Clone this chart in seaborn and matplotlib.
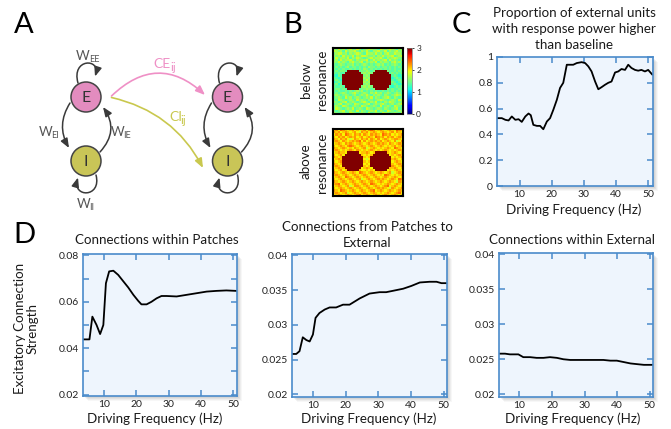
import numpy as np
import pandas as pd
import matplotlib
matplotlib.use("Agg")
import matplotlib.pyplot as plt
import seaborn as sns
from matplotlib.patches import Circle, FancyArrowPatch, Rectangle
from matplotlib.path import Path

# ---------------- data ----------------
freq_c = [3, 4.5, 5.6, 6.6, 7.6, 8.7, 9.7, 10.7, 11.8, 12.8, 13.5, 14.3, 15.4, 16.4, 17.4,
          18.5, 19.5, 20.5, 21.6, 22.6, 23.6, 24.7, 25.7, 26.7, 27.8, 29.3, 30.4, 31.4,
          32.4, 33.5, 34.5, 35.5, 36.6, 37.6, 38.6, 39.7, 40.7, 41.7, 42.8, 43.8, 44.8,
          45.9, 46.9, 47.9, 49.0, 50.0, 51.3]
prop_c = [0.526, 0.526, 0.513, 0.508, 0.539, 0.513, 0.518, 0.497, 0.539, 0.562, 0.549,
          0.474, 0.466, 0.466, 0.44, 0.50, 0.526, 0.59, 0.668, 0.76, 0.80, 0.94, 0.94,
          0.94, 0.953, 0.96, 0.953, 0.927, 0.888, 0.81, 0.75, 0.766, 0.785, 0.80, 0.81,
          0.88, 0.888, 0.907, 0.90, 0.94, 0.915, 0.90, 0.894, 0.90, 0.888, 0.90, 0.863]

freq_d1 = [3.4, 5.5, 6.4, 7.7, 8.8, 9.8, 10.6, 11.6, 12.9, 14.4, 16.0, 17.5, 19.1, 20.6,
           21.6, 23.2, 24.7, 26.3, 27.8, 29.4, 32.5, 35.6, 38.7, 41.8, 44.8, 47.9, 51.0]
within_patches = [0.0438, 0.0438, 0.0536, 0.0500, 0.0461, 0.0500, 0.0680, 0.0731, 0.0734,
                  0.0716, 0.0688, 0.0662, 0.0630, 0.0604, 0.0589, 0.0589, 0.0600, 0.0615,
                  0.0625, 0.0625, 0.0623, 0.0630, 0.0637, 0.0644, 0.0647, 0.0649, 0.0647]

freq_d2 = [3.6, 4.9, 5.9, 6.9, 8.0, 9.0, 10.0, 10.8, 12.0, 13.6, 15.1, 17.1, 19.2, 21.2,
           24.3, 27.3, 30.4, 32.4, 34.5, 37.6, 40.1, 42.7, 45.7, 47.8, 49.3, 51.0]
patches_to_external = [0.0258, 0.0258, 0.0262, 0.0282, 0.0278, 0.0276, 0.0286, 0.0310,
                       0.0317, 0.0322, 0.0325, 0.0325, 0.0329, 0.0329, 0.0338, 0.0345,
                       0.0347, 0.0347, 0.0349, 0.0352, 0.0356, 0.0361, 0.0362, 0.0362,
                       0.0360, 0.0360]

freq_d3 = [3.7, 5.6, 7.1, 8.7, 9.7, 11.2, 13.3, 15.3, 17.4, 19.4, 21.5, 23.5, 25.6, 27.6,
           29.7, 31.7, 33.8, 35.8, 37.9, 39.9, 42.0, 44.1, 46.1, 48.2, 51.0]
within_external = [0.0258, 0.0258, 0.0257, 0.0257, 0.0257, 0.0253, 0.0253, 0.0252, 0.0252,
                    0.0253, 0.0252, 0.0250, 0.0249, 0.0249, 0.0249, 0.0249, 0.0249, 0.0249,
                    0.0248, 0.0248, 0.0246, 0.0244, 0.0243, 0.0242, 0.0242]

c_yticks = [0, 0.2, 0.4, 0.6, 0.8, 1]
c_yticklabels = ["0", "0.2", "0.4", "0.6", "0.8", "1"]
freq_ticks = [10, 20, 30, 40, 50]
d1_yticks = [0.02, 0.03, 0.04, 0.05, 0.06, 0.07, 0.08]
d1_yticklabels = ["0.02", "", "0.04", "", "0.06", "", "0.08"]
d23_yticks = [0.02, 0.025, 0.03, 0.035, 0.04]
d23_yticklabels = ["0.02", "0.025", "0.03", "0.035", "0.04"]

# Response power maps (digit d -> 1.05 + 0.15*d ; X = patch, saturated)
below_rows = [
    "4353424533" "5423454332" "5434543243",
    "5434253445" "3243532445" "3352434534",
    "3455342434" "5432544353" "4245335443",
    "4342534352" "4355433424" "3534452345",
    "2534435243" "5432345344" "5324345433",
    "3425344532" "4344523534" "3452534324",
    "4353432453" "3452434352" "4343245342",
    "3234323342" "3234323234" "3423234323",
    "2323234233" "2323243323" "2332323232",
    "3232322323" "2324323232" "3232323223",
    "2323" "32XXXXX23" "343" "23XXXXX32" "23232",
    "3232" "2XXXXXXX3" "434" "3XXXXXXX2" "32323",
    "2132" "XXXXXXXXX" "343" "XXXXXXXXX" "23212",
    "3212" "XXXXXXXXX" "434" "XXXXXXXXX" "12321",
    "2321" "XXXXXXXXX" "353" "XXXXXXXXX" "21232",
    "1232" "XXXXXXXXX" "434" "XXXXXXXXX" "32123",
    "2312" "XXXXXXXXX" "343" "XXXXXXXXX" "23212",
    "3223" "2XXXXXXX3" "434" "3XXXXXXX2" "12323",
    "2332" "32XXXXX23" "343" "23XXXXX32" "32232",
    "3232232323" "4342323232" "2323232323",
    "2323432345" "3234324353" "4234323432",
    "3432343234" "2343532434" "3243234543",
    "2343253423" "4323435243" "2345324323",
    "3254323432" "5343243234" "5432343254",
    "4323452343" "2345324352" "3243543234",
    "2345234325" "4323452343" "4532342345",
    "3432543234" "3254323432" "5234325432",
    "2543234352" "3432543234" "3243234523",
    "3234523432" "5243234352" "4325432343",
    "4323432543" "2343252343" "2543234325",
]
# (digit d -> 1.2 + 0.15*d)
above_rows = [
    "6758765675" "6567578756" "7656765876",
    "7675676567" "5476756765" "6765675765",
    "5767587657" "6757657676" "5876756567",
    "6576756767" "5675676587" "6757675676",
    "7657675457" "6576757657" "5676567765",
    "6765765676" "7857567676" "7567657457",
    "5676576765" "6765676567" "6765765676",
    "6567657876" "5676567656" "7656567567",
    "7656765657" "6567456765" "6567658765",
    "6765656765" "7656567656" "5676565676",
    "5676" "65XXXXX56" "676" "56XXXXX65" "67656",
    "6567" "5XXXXXXX6" "565" "6XXXXXXX5" "65676",
    "7656" "XXXXXXXXX" "656" "XXXXXXXXX" "56567",
    "5676" "XXXXXXXXX" "545" "XXXXXXXXX" "67656",
    "6567" "XXXXXXXXX" "656" "XXXXXXXXX" "56765",
    "7656" "XXXXXXXXX" "565" "XXXXXXXXX" "65676",
    "6765" "XXXXXXXXX" "656" "XXXXXXXXX" "76567",
    "5676" "6XXXXXXX5" "676" "5XXXXXXX6" "67656",
    "6567" "56XXXXX65" "565" "65XXXXX56" "56765",
    "7656765676" "5876567656" "7656745676",
    "6765676567" "6567656765" "6587656567",
    "5676587656" "7656765676" "5676567656",
    "6567656765" "6745676567" "6765676587",
    "7656765676" "5676567656" "7656765476",
    "6785676567" "6567658765" "6567656765",
    "5676567457" "7656765676" "5678567656",
    "6567656765" "6765676567" "6765476567",
    "7658765676" "5676567856" "7656765676",
    "6765674567" "6567656765" "6567656785",
    "5676567656" "7856765676" "5676567656",
]
below_base, above_base, level_step, patch_value = 1.05, 1.2, 0.15, 3.5


def rows_to_grid(rows, base):
    grid = []
    for s in rows:
        s = s[:30].ljust(30, s[-1])
        grid.append([patch_value if ch == "X" else base + level_step * int(ch) for ch in s])
    return np.array(grid)


# ---------------- figure ----------------
sns.set_theme(style="white")
plt.rcParams["font.family"] = ["Lato", "DejaVu Sans"]

W, H = 671, 429
fig = plt.figure(figsize=(W / 100, H / 100), dpi=100)
fig.patch.set_facecolor("white")


def rect(x0, y0, x1, y1):
    return [x0 / W, 1 - y1 / H, (x1 - x0) / W, (y1 - y0) / H]


def pixel_axes(z):
    a = fig.add_axes([0, 0, 1, 1], zorder=z)
    a.set_xlim(0, W)
    a.set_ylim(H, 0)
    a.axis("off")
    return a


bg = pixel_axes(-5)
ov = pixel_axes(5)

AX_FACE = "#eef5fd"
SPINE = "#4a8bcb"
TXT = "#1a1a1a"


def shadow(x0, y0, x1, y1):
    for off, a in [(4.5, 0.06), (3.5, 0.08), (2.5, 0.10), (1.5, 0.10)]:
        bg.add_patch(Rectangle((x0 + off, y0 + off), x1 - x0, y1 - y0,
                               facecolor="#7a7a7a", edgecolor="none", alpha=a))


def line_panel(box, x, y, xlim, ylim, yticks, yticklabels):
    x0, y0, x1, y1 = box
    shadow(x0, y0, x1, y1)
    ax = fig.add_axes(rect(x0, y0, x1, y1))
    df = pd.DataFrame({"f": x, "v": y})
    sns.lineplot(data=df, x="f", y="v", ax=ax, color="black", linewidth=1.3)
    ax.set_facecolor(AX_FACE)
    for s in ax.spines.values():
        s.set_visible(True)
        s.set_color(SPINE)
        s.set_linewidth(1.2)
    ax.set_xlim(*xlim)
    ax.set_ylim(*ylim)
    ax.set_xticks(freq_ticks)
    ax.set_xticklabels([str(t) for t in freq_ticks])
    ax.set_yticks(yticks)
    ax.set_yticklabels(yticklabels)
    ax.tick_params(direction="in", length=4, width=1.1, color=SPINE,
                   top=True, right=True, bottom=True, left=True,
                   labelsize=7.5, labelcolor="#222222", pad=3)
    ax.set_xlabel("")
    ax.set_ylabel("")
    ax.grid(False)
    return ax


# Panel C
line_panel((497, 57, 653, 186), freq_c, prop_c, (3, 51.5), (0, 1), c_yticks, c_yticklabels)
# Panel D
line_panel((83, 254, 237, 396), freq_d1, within_patches, (3.5, 51.2), (0.0194, 0.0806),
           d1_yticks, d1_yticklabels)
line_panel((292, 254, 447, 397), freq_d2, patches_to_external, (3.6, 51), (0.0196, 0.0402),
           d23_yticks, d23_yticklabels)
line_panel((499, 253, 653, 397), freq_d3, within_external, (3.75, 51), (0.0196, 0.0402),
           d23_yticks, d23_yticklabels)

TSIZE = 9.6


def t(x, y, s, **kw):
    kw.setdefault("ha", "center")
    kw.setdefault("va", "baseline")
    kw.setdefault("fontsize", TSIZE)
    kw.setdefault("color", TXT)
    return ov.text(x, y, s, **kw)


t(574, 16.7, "Proportion of external units")
t(574, 33, "with response power higher")
t(574, 49.3, "than baseline")
t(574, 214, "Driving Frequency (Hz)")
t(157, 244.3, "Connections within Patches")
t(367.5, 231, "Connections from Patches to")
t(367.5, 247, "External")
t(572, 244.3, "Connections within External")
for xc in (155, 369, 572.5):
    t(xc, 423.3, "Driving Frequency (Hz)")
t(24, 328, "Excitatory Connection", rotation=90, rotation_mode="anchor")
t(37, 328, "Strength", rotation=90, rotation_mode="anchor")

for lab, x, y in [("A", 24, 33), ("B", 293, 33), ("C", 461.5, 33), ("D", 24, 243)]:
    t(x, y, lab, fontsize=21, color="black")

# Panel B heatmaps
below = rows_to_grid(below_rows, below_base)
above = rows_to_grid(above_rows, above_base)
axh1 = fig.add_axes(rect(333, 48, 403, 114))
cax = fig.add_axes(rect(407, 48, 412, 114))
sns.heatmap(below, ax=axh1, cmap="jet", vmin=0, vmax=3, cbar=True, cbar_ax=cax,
            cbar_kws={"ticks": [0, 1, 2, 3]}, xticklabels=False, yticklabels=False)
axh2 = fig.add_axes(rect(333, 129, 403, 196))
sns.heatmap(above, ax=axh2, cmap="jet", vmin=0, vmax=3, cbar=False,
            xticklabels=False, yticklabels=False)
for a in (axh1, axh2):
    for s in a.spines.values():
        s.set_visible(True)
        s.set_color("black")
        s.set_linewidth(1.5)
cax.tick_params(labelsize=6, length=1.5, width=0.6, pad=1.5, colors="#222222")
cb = axh1.collections[0].colorbar
cb.outline.set_edgecolor("#777777")
cb.outline.set_linewidth(0.5)

t(310, 80.5, "below", rotation=90, rotation_mode="anchor")
t(326, 80, "resonance", rotation=90, rotation_mode="anchor")
t(310, 161, "above", rotation=90, rotation_mode="anchor")
t(326, 163, "resonance", rotation=90, rotation_mode="anchor")

# Panel A network diagram
E_COL = "#e38cbf"
I_COL = "#c9c557"
ARR = "#3a3a3a"
PINK = "#ef90c6"
OLIVE = "#c9c84e"
ahead = "-|>,head_length=0.55,head_width=0.22"


def arrow_path(pts, color=ARR):
    p = Path(pts, [Path.MOVETO, Path.CURVE4, Path.CURVE4, Path.CURVE4])
    ov.add_patch(FancyArrowPatch(path=p, arrowstyle=ahead, mutation_scale=10,
                                 color=color, lw=1.1, shrinkA=0, shrinkB=0))


def arrow_arc(a, b, rad, color=ARR, lw=1.1):
    ov.add_patch(FancyArrowPatch(a, b, connectionstyle=f"arc3,rad={rad}", arrowstyle=ahead,
                                 mutation_scale=10, color=color, lw=lw, shrinkA=0, shrinkB=0))


for dx in (0, 141.5):
    ex, ey = 86 + dx, 97
    iy = 161
    ov.add_patch(Circle((ex, ey), 15, facecolor=E_COL, edgecolor="#444444", lw=1.1, zorder=3))
    ov.add_patch(Circle((ex, iy), 15, facecolor=I_COL, edgecolor="#444444", lw=1.1, zorder=3))
    t(ex, ey + 5.5, "E", fontsize=11.5, color="#333333", zorder=4)
    t(ex, iy + 5.5, "I", fontsize=11.5, color="#333333", zorder=4)
    # self loops
    arrow_path([(ex - 8, 83), (ex - 15, 58), (ex + 15, 58), (ex + 9, 76.5)])
    arrow_path([(ex + 10, 175), (ex + 16, 198), (ex - 14, 198), (ex - 8, 177.5)])
    # E -> I (left) and I -> E (right)
    arrow_arc((ex - 16, 103), (ex - 17, 148), 0.3)
    arrow_arc((ex + 14, 152), (ex + 17, 107), 0.4)

arrow_arc((111.5, 96), (205, 95), -0.47, color=PINK, lw=1.2)
arrow_arc((111.5, 97.5), (203, 168), -0.23, color=OLIVE, lw=1.2)

LAB = "#555555"


def wlabel(xm, xs, yb, main, sub, color=LAB, fm=9.5, fs=6.5, dys=1.5):
    t(xm, yb, main, ha="left", fontsize=fm, color=color)
    t(xs, yb + dys, sub, ha="left", fontsize=fs, color=color)


wlabel(76.0, 88.8, 60, "W", "EE")
wlabel(38.5, 51.5, 136, "W", "EI")
wlabel(110.5, 123.5, 136, "W", "IE")
wlabel(76.5, 89.5, 208, "W", "II")
wlabel(153.5, 170.5, 68.3, "CE", "ij", color=PINK, fm=10, fs=8.5, dys=3)
wlabel(169.0, 180.5, 120.7, "CI", "ij", color=OLIVE, fm=10, fs=8.5, dys=3)

fig.savefig("out.png", dpi=100)
